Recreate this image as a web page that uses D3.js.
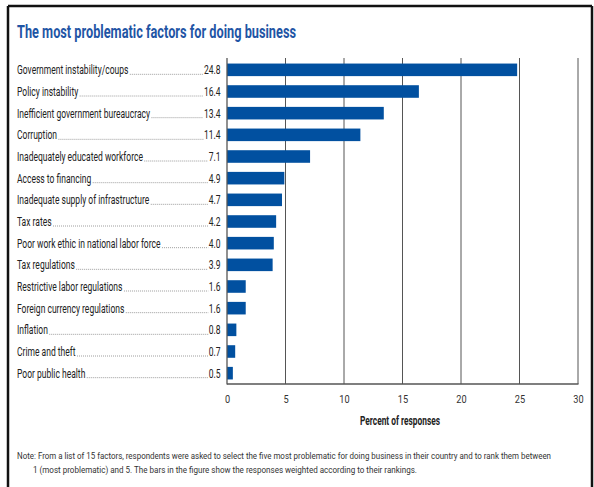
<!DOCTYPE html>
<html><head><meta charset="utf-8">
<script src="https://cdn.jsdelivr.net/npm/d3@7"></script>
<style>
body{margin:0;background:#fff;}
text{font-family:Roboto,"Liberation Sans",sans-serif;}
</style></head>
<body><svg id="c" width="594" height="487"></svg>
<script>
const categories = ["Government instability/coups","Policy instability","Inefficient government bureaucracy","Corruption","Inadequately educated workforce","Access to financing","Inadequate supply of infrastructure","Tax rates","Poor work ethic in national labor force","Tax regulations","Restrictive labor regulations","Foreign currency regulations","Inflation","Crime and theft","Poor public health"];
const values = [24.8,16.4,13.4,11.4,7.1,4.9,4.7,4.2,4.0,3.9,1.6,1.6,0.8,0.7,0.5];
const valueLabels = ["24.8","16.4","13.4","11.4","7.1","4.9","4.7","4.2","4.0","3.9","1.6","1.6","0.8","0.7","0.5"];
const xTicks = [0,5,10,15,20,25,30];
const title = "The most problematic factors for doing business";
const xTitle = "Percent of responses";
const noteLines = ["Note: From a list of 15 factors, respondents were asked to select the five most problematic for doing business in their country and to rank them between","1 (most problematic) and 5. The bars in the figure show the responses weighted according to their rankings."];

const SX = 0.8;   // horizontal condensation of tick text
const LSX = 0.71; // horizontal condensation of category labels
const svg = d3.select("#c");
// frame (top, left, right; bottom lies below the picture)
const frame = svg.append("g").attr("stroke","#111").attr("stroke-width",2.5);
frame.append("line").attr("x1",8).attr("x2",592).attr("y1",6).attr("y2",6);
frame.append("line").attr("x1",8).attr("x2",8).attr("y1",6).attr("y2",487);
frame.append("line").attr("x1",592).attr("x2",592).attr("y1",6).attr("y2",487);

svg.append("text").attr("x",17).attr("y",38).text(title)
  .attr("font-size",18).attr("font-weight","bold").attr("fill","#1f55a5")
  .attr("textLength",279).attr("lengthAdjust","spacingAndGlyphs");

const x = d3.scaleLinear().domain([0,30]).range([227,578]);
const y = d3.scaleBand().domain(categories).range([59,384]).paddingInner(0.42).paddingOuter(0.21);

// gridlines
svg.append("g").selectAll("line").data(xTicks.slice(1)).join("line")
  .attr("x1",d=>x(d)).attr("x2",d=>x(d)).attr("y1",58).attr("y2",384)
  .attr("stroke","#555").attr("stroke-width",1);

// bars
svg.append("g").selectAll("rect").data(categories).join("rect")
  .attr("x",x(0)).attr("y",d=>y(d)).attr("height",y.bandwidth())
  .attr("width",(d,i)=>x(values[i])-x(0)).attr("fill","#0150a0");

// axes lines
svg.append("line").attr("x1",x(0)).attr("x2",x(0)).attr("y1",58).attr("y2",384.5).attr("stroke","#555").attr("stroke-width",1.3);
svg.append("line").attr("x1",x(0)).attr("x2",x(30)+0.5).attr("y1",384).attr("y2",384).attr("stroke","#555").attr("stroke-width",1.5);

// tick labels via axis
const ax = svg.append("g").attr("transform","translate(0,384)").call(d3.axisBottom(x).tickValues(xTicks).tickSize(0).tickPadding(11).tickFormat(d3.format("d")));
ax.select(".domain").remove();
ax.selectAll(".tick text").attr("font-size",11.5).attr("fill","#333").style("font-family","Roboto,sans-serif")
  .attr("transform",`scale(${SX},1)`).attr("x",0);

svg.append("text").attr("x",360).attr("y",425).text(xTitle)
  .attr("font-size",12).attr("font-weight","bold").attr("fill","#222")
  .attr("textLength",80).attr("lengthAdjust","spacingAndGlyphs");

// category labels with leaders
const lab = svg.append("g");
categories.forEach((c,i)=>{
  const cy = y(c)+y.bandwidth()/2+4.5;
  const t = lab.append("text").attr("transform",`translate(17,${cy}) scale(${LSX},1)`).text(c).attr("font-size",12).attr("fill","#222");
  const v = lab.append("text").attr("transform",`translate(220.5,${cy}) scale(${LSX},1)`).attr("text-anchor","end").text(valueLabels[i]).attr("font-size",12).attr("fill","#222");
  const tw = t.node().getComputedTextLength()*LSX;
  const vw = v.node().getComputedTextLength()*LSX;
  lab.append("line").attr("x1",17+tw+1.5).attr("x2",220.5-vw-0.5).attr("y1",cy).attr("y2",cy)
    .attr("stroke","#666").attr("stroke-width",0.8).attr("stroke-dasharray","0.8,1.2");
});

// note
svg.append("text").attr("x",17).attr("y",459).text(noteLines[0]).attr("font-size",8.5).attr("fill","#333")
  .attr("textLength",534).attr("lengthAdjust","spacingAndGlyphs");
svg.append("text").attr("x",33).attr("y",473).text(noteLines[1]).attr("font-size",8.5).attr("fill","#333")
  .attr("textLength",384).attr("lengthAdjust","spacingAndGlyphs");
</script></body></html>
